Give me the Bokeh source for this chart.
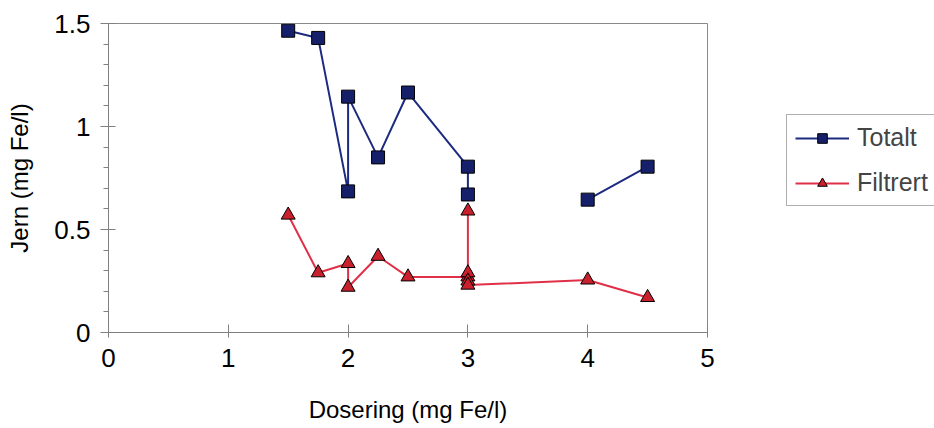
from bokeh.plotting import figure
from bokeh.models import Range1d, FixedTicker, Legend, LegendItem, ColumnDataSource
from bokeh.embed import file_html
from bokeh.resources import INLINE
import numpy as np

# Data
tot_x = [1.5, 1.75, 2.0, 2.0, 2.25, 2.5, 3.0, 3.0, np.nan, 4.0, 4.5]
tot_y = [1.465, 1.43, 0.685, 1.145, 0.85, 1.165, 0.805, 0.67, np.nan, 0.645, 0.805]
fil_x = [1.5, 1.75, 2.0, 2.0, 2.25, 2.5, 3.0, 3.0, 3.0, 3.0, 3.0, 4.0, 4.5]
fil_y = [0.57, 0.29, 0.335, 0.22, 0.37, 0.27, 0.27, 0.59, 0.29, 0.25, 0.23, 0.255, 0.17]
x_ticks = [0, 1, 2, 3, 4, 5]
y_ticks = [0, 0.5, 1, 1.5]
y_labels = {0: "0", 0.5: "0.5", 1: "1", 1.5: "1.5"}

FONT = "Liberation Sans"

p = figure(frame_width=599, frame_height=309, output_backend="svg", toolbar_location=None,
           x_range=Range1d(0, 5), y_range=Range1d(0, 1.5),
           min_border_left=108, min_border_right=0, min_border_top=23, min_border_bottom=96)
p.grid.visible = False
p.outline_line_color = "#8a8a8a"
p.outline_line_width = 1
p.background_fill_color = "white"
p.border_fill_color = "white"

p.xaxis.ticker = FixedTicker(ticks=x_ticks)
p.yaxis.ticker = FixedTicker(ticks=y_ticks, minor_ticks=[round(0.1 * i, 2) for i in range(16)])
p.yaxis.major_label_overrides = y_labels
for ax in (p.xaxis, p.yaxis):
    ax.axis_line_color = "#808080"
    ax.major_tick_line_color = "#808080"
    ax.minor_tick_line_color = "#808080"
    ax.major_label_text_font = FONT
    ax.major_label_text_font_size = "26px"
    ax.major_label_text_color = "black"
    ax.axis_label_text_font = FONT
    ax.axis_label_text_font_size = "24px"
    ax.axis_label_text_font_style = "normal"
    ax.axis_label_text_color = "black"
p.xaxis.major_tick_in = 8
p.xaxis.major_tick_out = 5
p.xaxis.minor_tick_line_color = None
p.xaxis.major_label_standoff = 11
p.xaxis.axis_label = "Dosering (mg Fe/l)"
p.xaxis.axis_label_standoff = 26
p.yaxis.major_tick_in = 7
p.yaxis.major_tick_out = 8
p.yaxis.minor_tick_in = 0
p.yaxis.minor_tick_out = 5
p.yaxis.major_label_standoff = 10
p.yaxis.axis_label = "Jern (mg Fe/l)"
p.yaxis.axis_label_standoff = 18

src_t = ColumnDataSource(dict(x=tot_x, y=tot_y))
src_f = ColumnDataSource(dict(x=fil_x, y=fil_y))

lt = p.line("x", "y", source=src_t, line_color="#1c2a80", line_width=2)
mt = p.scatter("x", "y", source=src_t, marker="square", size=13,
               fill_color="#16206a", line_color="black", line_width=1)
lf = p.line("x", "y", source=src_f, line_color="#e03048", line_width=2)
mf = p.scatter("x", "y", source=src_f, marker="triangle", size=14,
               fill_color="#c8202c", line_color="black", line_width=1)

legend = Legend(items=[LegendItem(label="Totalt", renderers=[lt, mt]),
                       LegendItem(label="Filtrert", renderers=[lf, mf])],
                location=(79, 126))
legend.label_text_font = FONT
legend.label_text_font_size = "25px"
legend.border_line_color = "#606060"
legend.border_line_width = 1
legend.glyph_width = 54
legend.glyph_height = 24
legend.label_standoff = 8
legend.spacing = 16
legend.padding = 8
legend.margin = 0
legend.background_fill_alpha = 1
p.add_layout(legend, "right")

open("out.html", "w").write(file_html(p, INLINE))
